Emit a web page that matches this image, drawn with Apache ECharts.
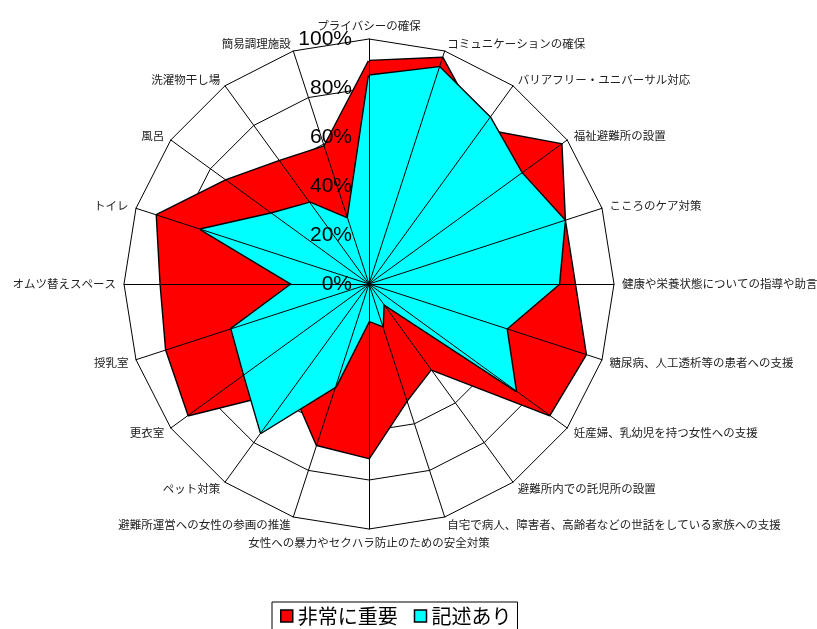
<!DOCTYPE html>
<html><head><meta charset="utf-8">
<script src="https://cdn.jsdelivr.net/npm/echarts@6/dist/echarts.min.js"></script>
<style>html,body{margin:0;padding:0;background:#fff}#c{width:817px;height:629px}</style>
</head><body><div id="c"></div>
<script>
// categories in clockwise order starting at the top
const categories = [
  'プライバシーの確保','コミュニケーションの確保','バリアフリー・ユニバーサル対応','福祉避難所の設置',
  'こころのケア対策','健康や栄養状態についての指導や助言','糖尿病、人工透析等の患者への支援',
  '妊産婦、乳幼児を持つ女性への支援','避難所内での託児所の設置',
  '自宅で病人、障害者、高齢者などの世話をしている家族への支援','女性への暴力やセクハラ防止のための安全対策',
  '避難所運営への女性の参画の推進','ペット対策','更衣室','授乳室','オムツ替えスペース','トイレ','風呂',
  '洗濯物干し場','簡易調理施設'
];
const seriesNames = ['非常に重要','記述あり'];
const veryImportant = [91, 97, 78, 97, 84, 84, 93, 91, 43, 50, 71, 69, 53, 91, 87, 85, 91, 72, 62, 59];
const described     = [85, 93, 84, 77, 84, 77.5, 59, 74, 10, 18, 15, 44, 75, 63, 59, 31.5, 72, 49, 41, 28];
const tickLabels = ['0%','20%','40%','60%','80%','100%'];

// ECharts places radar indicators counter-clockwise; reorder so they read clockwise
const order = [0];
for (let i = categories.length - 1; i >= 1; i--) order.push(i);
const reorder = arr => order.map(i => arr[i]);

const jp = '"Noto Sans CJK JP", sans-serif';
const common = {
  center: [369, 284], radius: 245, startAngle: 90, shape: 'polygon', splitNumber: 5
};
const indicatorsBack = order.map(i => ({ name: categories[i], min: 0, max: 100 }));
const indicatorsFront = order.map((i, k) => {
  const o = { name: '', min: 0, max: 100 };
  if (k === 0) o.axisLabel = {
    show: true, fontSize: 21, color: '#000', fontFamily: 'Liberation Sans, Arial, sans-serif',
    margin: 17, formatter: v => tickLabels[Math.round(v / 20)]
  };
  return o;
});

const chart = echarts.init(document.getElementById('c'));
chart.setOption({
  animation: false,
  backgroundColor: '#fff',
  legend: {
    data: seriesNames, left: 272, top: 602, orient: 'horizontal',
    borderColor: '#000', borderWidth: 1, padding: [4, 6, 4, 8],
    itemWidth: 12, itemHeight: 12, itemGap: 16, icon: 'rect',
    itemStyle: { borderColor: '#000', borderWidth: 1.5 },
    textStyle: { fontSize: 20, color: '#000', fontFamily: jp }
  },
  radar: [
    Object.assign({}, common, {
      z: 0,
      indicator: indicatorsBack,
      nameGap: 8,
      axisName: { color: '#222', fontSize: 11.5, fontFamily: jp },
      splitLine: { lineStyle: { color: '#000', width: 1 } },
      splitArea: { show: false },
      axisLine: { show: false },
      axisTick: { show: false },
      axisLabel: { show: false }
    }),
    Object.assign({}, common, {
      z: 5,
      indicator: indicatorsFront,
      axisName: { show: false },
      splitLine: { show: false },
      splitArea: { show: false },
      axisLine: { lineStyle: { color: '#000', width: 1 } },
      axisTick: { show: false },
      axisLabel: { show: false }
    })
  ],
  series: [{
    type: 'radar', radarIndex: 0, z: 2, symbol: 'none',
    data: [
      { name: seriesNames[0], value: reorder(veryImportant),
        itemStyle: { color: '#ff0000' },
        lineStyle: { color: '#000', width: 2.8 }, areaStyle: { color: '#ff0000', opacity: 1 } },
      { name: seriesNames[1], value: reorder(described),
        itemStyle: { color: '#00ffff' },
        lineStyle: { color: '#000', width: 2.8 }, areaStyle: { color: '#00ffff', opacity: 1 } }
    ]
  }]
});
</script></body></html>
